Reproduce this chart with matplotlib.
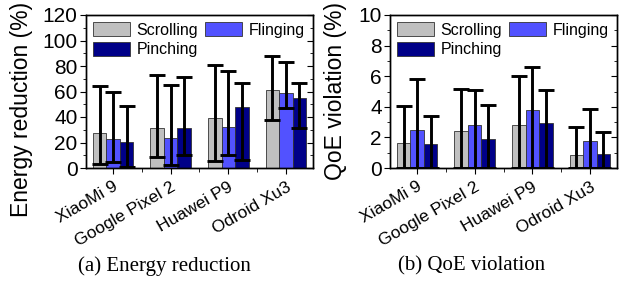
import matplotlib
matplotlib.use("Agg")
import matplotlib.pyplot as plt
import matplotlib.transforms as mtrans
import numpy as np
from matplotlib.ticker import MultipleLocator

plt.rcParams.update({
    "font.family": "Liberation Sans",
    "font.size": 12,
    "axes.linewidth": 1.0,
})

devices = ["XiaoMi 9", "Google Pixel 2", "Huawei P9", "Odroid Xu3"]
gestures = ["Scrolling", "Flinging", "Pinching"]
colors = ["#c0c0c0", "#5252ff", "#000088"]

# (a) energy reduction: mean, lower bound, upper bound
energy = {
    "Scrolling": [27.5, 31.4, 39.3, 61.3],
    "Flinging": [22.5, 23.6, 32.0, 59.0],
    "Pinching": [20.3, 31.4, 48.0, 55.0],
}
energy_lo = {
    "Scrolling": [3.4, 8.4, 5.8, 37.5],
    "Flinging": [5.0, 2.6, 10.2, 47.0],
    "Pinching": [1.0, 10.0, 6.5, 31.7],
}
energy_hi = {
    "Scrolling": [64.7, 73.0, 80.7, 87.8],
    "Flinging": [60.0, 65.0, 76.0, 83.0],
    "Pinching": [49.0, 71.5, 66.3, 66.8],
}

# (b) QoE violation: mean, upper bound (lower goes to 0)
qoe = {
    "Scrolling": [1.64, 2.45, 2.82, 0.85],
    "Flinging": [2.51, 2.80, 3.80, 1.79],
    "Pinching": [1.55, 1.90, 2.92, 0.92],
}
qoe_hi = {
    "Scrolling": [4.04, 5.17, 6.00, 2.69],
    "Flinging": [5.79, 5.09, 6.57, 3.84],
    "Pinching": [3.43, 4.13, 5.09, 2.34],
}

fig = plt.figure(figsize=(6.28, 2.93), dpi=100)
axA = fig.add_axes([86 / 628, 1 - 168 / 293, 227 / 628, 153 / 293])
axB = fig.add_axes([390 / 628, 1 - 168 / 293, 227 / 628, 153 / 293])

x = np.arange(len(devices))
w = 0.235


def draw(ax, vals, lo, hi, ymax, major, minor, ylabel, lab_xy):
    hs = []
    for i, g in enumerate(gestures):
        pos = x + (i - 1) * w
        v = np.array(vals[g])
        lower = v - np.array(lo[g]) if lo is not None else v
        upper = np.array(hi[g]) - v
        h = ax.bar(pos, v, w, color=colors[i], edgecolor="#333333", linewidth=0.6,
                   label=g, zorder=2)
        hs.append(h)
        ax.errorbar(pos, v, yerr=[lower, upper], fmt="none", ecolor="black",
                    elinewidth=2.1, capsize=6, capthick=2.1, zorder=3)
    ax.set_xlim(-0.47, 3.47)
    ax.set_ylim(0, ymax)
    ax.yaxis.set_major_locator(MultipleLocator(major))
    ax.yaxis.set_minor_locator(MultipleLocator(minor))
    ax.tick_params(axis="y", which="major", labelsize=15, length=4.5, pad=1.5)
    ax.tick_params(axis="y", which="minor", length=2.5)

    # inward ticks on the right spine
    tw = ax.twinx()
    tw.set_ylim(0, ymax)
    tw.yaxis.set_major_locator(MultipleLocator(major))
    tw.yaxis.set_minor_locator(MultipleLocator(minor))
    tw.tick_params(axis="y", which="both", direction="in", labelright=False)
    tw.tick_params(axis="y", which="major", length=4)
    tw.tick_params(axis="y", which="minor", length=2.5)

    ax.set_xticks(x)
    ax.set_xticks(x[:-1] + 0.5, minor=True)
    ax.set_xticklabels(devices, rotation=30, ha="right", rotation_mode="anchor",
                       fontsize=12.5)
    shift = mtrans.ScaledTranslation(0.26, 0, fig.dpi_scale_trans)
    for t in ax.get_xticklabels():
        t.set_transform(t.get_transform() + shift)
    ax.tick_params(axis="x", which="major", length=4.5)
    ax.tick_params(axis="x", which="minor", length=3)
    ax.set_ylabel(ylabel, fontsize=16.5)
    ax.yaxis.set_label_coords(*lab_xy)
    # legend filled row-wise: Scrolling, Flinging / Pinching
    order = [0, 2, 1]
    ax.legend([hs[k] for k in order], [gestures[k] for k in order],
              loc="upper left", ncol=2, frameon=False, fontsize=11.5,
              handlelength=2.3, handleheight=1.0, columnspacing=0.45,
              handletextpad=0.4, labelspacing=0.25, borderaxespad=0.25,
              borderpad=0.2)


draw(axA, energy, energy_lo, energy_hi, 120, 20, 10, "Energy reduction (%)",
     (-0.233, 0.386))
draw(axB, qoe, None, qoe_hi, 10, 2, 1, "QoE violation (%)", (-0.19, 0.5))

fig.text(164 / 628, 1 - 266 / 293, "(a) Energy reduction", family="Liberation Serif",
         fontsize=15, ha="center", va="center")
fig.text(472 / 628, 1 - 266 / 293, "(b) QoE violation", family="Liberation Serif",
         fontsize=15, ha="center", va="center")

fig.savefig("out.png", dpi=100)
